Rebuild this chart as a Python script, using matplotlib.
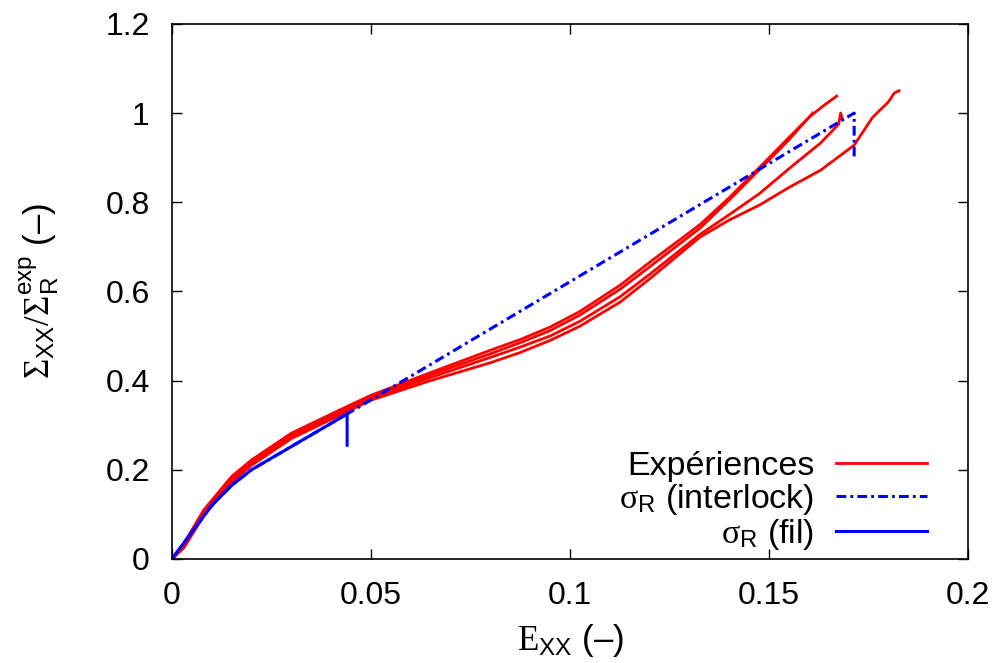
import numpy as np
import matplotlib
matplotlib.use('Agg')
import matplotlib.pyplot as plt

plt.rcParams['font.family'] = ['Liberation Sans', 'DejaVu Sans']
plt.rcParams['mathtext.fontset'] = 'custom'
plt.rcParams['mathtext.rm'] = 'Liberation Serif'
plt.rcParams['mathtext.sf'] = 'Liberation Sans'
plt.rcParams['mathtext.it'] = 'Liberation Serif:italic'
plt.rcParams['lines.scale_dashes'] = False

exp1_x = [0, 0.003, 0.008, 0.015, 0.02, 0.03, 0.044, 0.05, 0.065, 0.08, 0.0875, 0.095, 0.1025, 0.1126, 0.12, 0.1327, 0.14, 0.1495, 0.155, 0.16, 0.1635, 0.167]
exp1_y = [0, 0.035, 0.11, 0.185, 0.222, 0.282, 0.342, 0.367, 0.418, 0.468, 0.492, 0.52, 0.555, 0.614, 0.665, 0.75, 0.81, 0.895, 0.945, 0.99, 1.015, 1.038]

exp2_x = [0, 0.003, 0.008, 0.015, 0.02, 0.03, 0.044, 0.05, 0.065, 0.08, 0.0875, 0.095, 0.1025, 0.1126, 0.12, 0.1327, 0.14, 0.1495, 0.155, 0.159, 0.161]
exp2_y = [0, 0.03, 0.105, 0.18, 0.218, 0.278, 0.338, 0.364, 0.413, 0.46, 0.485, 0.512, 0.547, 0.605, 0.655, 0.742, 0.805, 0.89, 0.94, 0.98, 1.0]

exp3_x = [0, 0.003, 0.008, 0.015, 0.02, 0.03, 0.044, 0.05, 0.065, 0.08, 0.0875, 0.095, 0.1025, 0.1126, 0.12, 0.1327, 0.14, 0.1477, 0.155, 0.163, 0.1675, 0.168, 0.1685]
exp3_y = [0, 0.028, 0.1, 0.176, 0.214, 0.274, 0.334, 0.36, 0.407, 0.452, 0.475, 0.5, 0.533, 0.588, 0.638, 0.728, 0.772, 0.82, 0.875, 0.933, 0.975, 1.0, 0.985]

exp4_x = [0, 0.003, 0.008, 0.015, 0.02, 0.03, 0.044, 0.05, 0.065, 0.08, 0.0875, 0.095, 0.1025, 0.1126, 0.12, 0.1327, 0.14, 0.1477, 0.155, 0.163, 0.1714, 0.176, 0.18, 0.1815, 0.1827]
exp4_y = [0, 0.025, 0.097, 0.172, 0.21, 0.27, 0.33, 0.356, 0.4, 0.44, 0.463, 0.49, 0.522, 0.576, 0.628, 0.722, 0.76, 0.794, 0.833, 0.872, 0.928, 0.99, 1.025, 1.045, 1.05]

# model: interlock failure
interlock_x = [0, 0.005, 0.01, 0.015, 0.02, 0.044, 0.1714, 0.1714]
interlock_y = [0, 0.06, 0.12, 0.165, 0.2, 0.325, 1.0, 0.9]

# model: yarn (fil) failure
fil_x = [0, 0.005, 0.01, 0.015, 0.02, 0.044, 0.044]
fil_y = [0, 0.06, 0.12, 0.165, 0.2, 0.325, 0.255]

fig = plt.figure(figsize=(10, 6.63), dpi=100)
ax = fig.add_axes([0.172, 0.157, 0.796, 0.807])

red = '#ff0000'
blue = '#0000ff'
ax.plot(exp1_x, exp1_y, color=red, lw=2.0, label='Expériences')
ax.plot(exp2_x, exp2_y, color=red, lw=2.0)
ax.plot(exp3_x, exp3_y, color=red, lw=2.0)
ax.plot(exp4_x, exp4_y, color=red, lw=2.0)
ax.plot(interlock_x, interlock_y, color=blue, lw=2.2, dashes=(7, 3, 2, 3),
        label=r'$\mathrm{\sigma}_{\mathsf{R}}$ (interlock)')
ax.plot(fil_x, fil_y, color=blue, lw=2.2, label=r'$\mathrm{\sigma}_{\mathsf{R}}$ (fil)')

ax.set_xlim(0, 0.2)
ax.set_ylim(0, 1.2)
ax.set_xticks([0, 0.05, 0.1, 0.15, 0.2])
ax.set_xticklabels(['0', '0.05', '0.1', '0.15', '0.2'])
ax.set_yticks([0, 0.2, 0.4, 0.6, 0.8, 1.0, 1.2])
ax.set_yticklabels(['0', '0.2', '0.4', '0.6', '0.8', '1', '1.2'])
ax.tick_params(direction='in', length=7, width=1, top=True, right=True,
               labelsize=23, pad=16)
for s in ax.spines.values():
    s.set_linewidth(1.2)

ax.set_xlabel(r'$\mathrm{E}_{\mathsf{XX}}$ (–)', fontsize=25, labelpad=8)
ax.set_ylabel(r'$\Sigma_{\mathsf{XX}}/\Sigma_{\mathsf{R}}^{\mathsf{exp}}$ (–)', fontsize=25, labelpad=32)

ax.legend(loc='lower right', bbox_to_anchor=(0.965, -0.012), frameon=False,
          markerfirst=False, fontsize=24.5, handlelength=2.65, handletextpad=0.65,
          labelspacing=0.0, borderaxespad=0)

fig.savefig('out.png', dpi=100)
